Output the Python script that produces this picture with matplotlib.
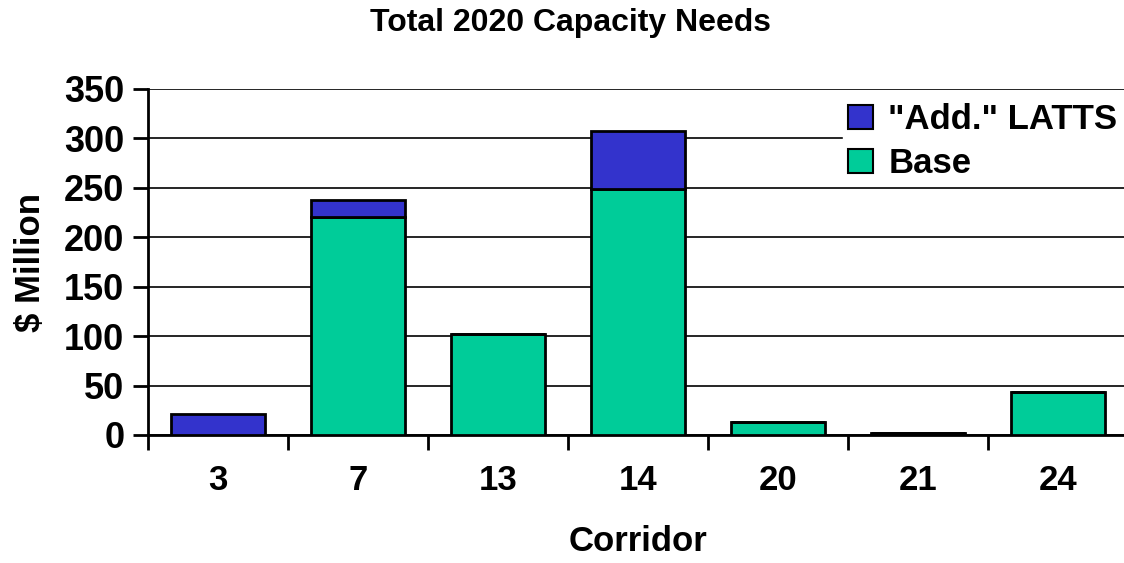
import matplotlib.pyplot as plt
import numpy as np

corridors = ["3", "7", "13", "14", "20", "21", "24"]
base = [0, 221, 102, 249, 13, 2, 43]
added = [21, 17, 0, 59, 0, 0, 0]

plt.rcParams["font.family"] = ["Liberation Sans", "DejaVu Sans"]
plt.rcParams["font.weight"] = "bold"

fig = plt.figure(figsize=(11.24, 5.63), dpi=100)
ax = fig.add_axes([148 / 1124, 1 - 435 / 563, 980 / 1124, 346 / 563])

x = np.arange(len(corridors))
ax.bar(x, base, width=0.67, color="#00CC99", edgecolor="black", linewidth=2,
       label="Base", zorder=3)
ax.bar(x, added, width=0.67, bottom=base, color="#3333CC", edgecolor="black",
       linewidth=2, label='"Add." LATTS', zorder=3)

ax.set_ylim(0, 350)
ax.set_xlim(-0.5, len(corridors) - 0.5)
ax.set_yticks(np.arange(0, 351, 50))
ax.yaxis.grid(True, color="black", linewidth=1.2, zorder=0)
ax.set_axisbelow(True)

for s in ["top", "right"]:
    ax.spines[s].set_visible(False)
ax.spines["left"].set_linewidth(2)
ax.spines["bottom"].set_linewidth(2)

ax.set_xticks(x)
ax.set_xticklabels(corridors)
ax.set_xticks(np.arange(-0.5, len(corridors)), minor=True)
ax.tick_params(axis="x", which="major", length=0, pad=21, labelsize=25)
ax.tick_params(axis="x", which="minor", length=11, width=2, direction="out")
ax.tick_params(axis="y", length=11, width=2, direction="out", labelsize=26, pad=6)

ax.set_xlabel("Corridor", fontsize=25, fontweight="bold", labelpad=20)
ax.set_ylabel("$ Million", fontsize=25, fontweight="bold", labelpad=12)
fig.text(570 / 1124, 1 - 23 / 563, "Total 2020 Capacity Needs", fontsize=23,
         fontweight="bold", ha="center", va="center")

handles, labels = ax.get_legend_handles_labels()
leg = ax.legend(handles[::-1], labels[::-1], loc="upper right",
                bbox_to_anchor=(0.998, 0.985), frameon=True, fontsize=25,
                handlelength=0.7, handleheight=0.7, handletextpad=0.45,
                labelspacing=0.32, borderaxespad=0.1, borderpad=0.15)
leg.get_frame().set_edgecolor("white")
leg.get_frame().set_facecolor("white")
leg.get_frame().set_alpha(1)
leg.set_zorder(5)
for p in leg.get_patches():
    p.set_linewidth(1.5)

fig.savefig("out.png", dpi=100)
